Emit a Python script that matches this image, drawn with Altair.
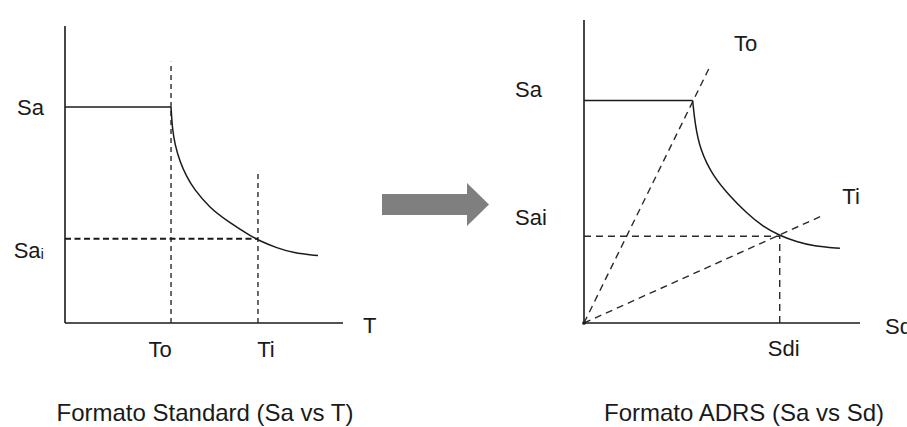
import altair as alt
import pandas as pd

FONT = "Liberation Sans"
INK = "#1a1a1a"
GUIDE = "#2a2a2a"

# ---- Standard format: Sa (g) vs T (s) ----
T_AXIS_MAX = 1.311
SA_AXIS_MAX_STD = 1.375
T0 = 0.50          # corner period
TI = 0.91          # inelastic period
SA0 = 1.00         # plateau acceleration
SAI = 0.39         # acceleration at Ti
TO_GUIDE_TOP = 1.21
TI_GUIDE_TOP = 0.70
STD_CURVE_T = [0.500, 0.506, 0.519, 0.542, 0.574, 0.605, 0.684, 0.763, 0.873, 0.920, 0.999, 1.075, 1.193]
STD_CURVE_SA = [1.000, 0.900, 0.824, 0.747, 0.677, 0.624, 0.531, 0.474, 0.404, 0.380, 0.347, 0.325, 0.312]

# ---- ADRS format: Sa (g) vs Sd (cm) ----
SD_AXIS_MAX = 11.0
SA_AXIS_MAX_ADRS = 1.362
SD0 = 4.33         # displacement at the end of the plateau
SDI = 7.80         # displacement at Ti
ADRS_CURVE_SD = [4.33, 4.42, 4.62, 5.14, 5.82, 6.48, 7.13, 7.81, 8.48, 9.13, 10.20]
ADRS_CURVE_SA = [1.000, 0.900, 0.780, 0.660, 0.570, 0.494, 0.433, 0.392, 0.365, 0.346, 0.336]
TO_RAY_SD = [0.0, 5.05]
TO_RAY_SA = [0.0, 1.16]
TI_RAY_SD = [0.0, 9.41]
TI_RAY_SA = [0.0, 0.478]

# ---- block arrow between the two panels (fractions of its length / height) ----
SHAFT_START, SHAFT_END = 0.0, 0.795
SHAFT_HALF = 0.244
HEAD_CENTER = 0.897

x_std = alt.Scale(domain=[0, T_AXIS_MAX], range=[65, 343], nice=False, zero=False)
y_std = alt.Scale(domain=[0, SA_AXIS_MAX_STD], range=[323, 26], nice=False, zero=False)
x_adrs = alt.Scale(domain=[0, SD_AXIS_MAX], range=[584, 860], nice=False, zero=False)
y_adrs = alt.Scale(domain=[0, SA_AXIS_MAX_ADRS], range=[323, 20], nice=False, zero=False)
x_arrow = alt.Scale(domain=[0, 1], range=[382, 489], nice=False, zero=False)
y_arrow = alt.Scale(domain=[-0.5, 0.5], range=[226, 183], nice=False, zero=False)


def segments(rows, xs, ys, color=INK, width=1.5, dash=None):
    df = pd.DataFrame(rows, columns=["x", "y", "x2", "y2"])
    kw = dict(color=color, strokeWidth=width)
    if dash:
        kw["strokeDash"] = dash
    return alt.Chart(df).mark_rule(**kw).encode(
        x=alt.X("x:Q", scale=xs, axis=None),
        y=alt.Y("y:Q", scale=ys, axis=None),
        x2="x2:Q",
        y2="y2:Q",
    )


def curve(xv, yv, xs, ys, color=INK, width=1.5, dash=None, interp="basis"):
    df = pd.DataFrame({"x": xv, "y": yv})
    kw = dict(color=color, strokeWidth=width, interpolate=interp)
    if dash:
        kw["strokeDash"] = dash
    return alt.Chart(df).mark_line(**kw).encode(
        x=alt.X("x:Q", scale=xs, axis=None),
        y=alt.Y("y:Q", scale=ys, axis=None),
    )


def label(text, x, y, xs, ys, dx=0, dy=0, align="center", size=22):
    df = pd.DataFrame({"x": [x], "y": [y], "t": [text]})
    return alt.Chart(df).mark_text(
        align=align, baseline="middle", dx=dx, dy=dy,
        fontSize=size, font=FONT, color=INK,
    ).encode(
        x=alt.X("x:Q", scale=xs, axis=None),
        y=alt.Y("y:Q", scale=ys, axis=None),
        text="t:N",
    )


# ---------------- Standard panel ----------------
std = alt.layer(
    segments([[0, 0, T_AXIS_MAX, 0], [0, 0, 0, SA_AXIS_MAX_STD]], x_std, y_std, width=1.6),
    segments([[0, SA0, T0, SA0]], x_std, y_std, width=1.4),
    segments([[T0, 0, T0, TO_GUIDE_TOP], [TI, 0, TI, TI_GUIDE_TOP]], x_std, y_std,
             color=GUIDE, width=1.4, dash=[5, 4]),
    segments([[0, SAI, TI, SAI]], x_std, y_std, color=INK, width=2.2, dash=[6, 3.5]),
    curve(STD_CURVE_T, STD_CURVE_SA, x_std, y_std),
    label("Sa", 0, SA0, x_std, y_std, dx=-21, dy=1, align="right"),
    label("Saᵢ", 0, SAI, x_std, y_std, dx=-21, dy=12, align="right"),
    label("To", T0, 0, x_std, y_std, dx=-11, dy=27),
    label("Ti", TI, 0, x_std, y_std, dx=8, dy=27),
    label("T", T_AXIS_MAX, 0, x_std, y_std, dx=20, dy=3, align="left"),
    label("Formato Standard (Sa vs T)", T_AXIS_MAX / 2, 0, x_std, y_std, dx=1, dy=91, size=24),
)

# ---------------- arrow: shaft + triangular head ----------------
ARROW_GRAY = "#7f7f7f"
shaft = alt.Chart(pd.DataFrame({
    "x": [SHAFT_START], "x2": [SHAFT_END], "y": [-SHAFT_HALF], "y2": [SHAFT_HALF],
})).mark_rect(color=ARROW_GRAY).encode(
    x=alt.X("x:Q", scale=x_arrow, axis=None),
    x2="x2:Q",
    y=alt.Y("y:Q", scale=y_arrow, axis=None),
    y2="y2:Q",
)
head = alt.Chart(pd.DataFrame({"x": [HEAD_CENTER], "y": [0.0]})).mark_point(
    shape="M-0.512,-1L0.512,0L-0.512,1Z", size=1849,
    filled=True, color=ARROW_GRAY, opacity=1, strokeWidth=0,
).encode(
    x=alt.X("x:Q", scale=x_arrow, axis=None),
    y=alt.Y("y:Q", scale=y_arrow, axis=None),
)
arrow = alt.layer(shaft, head)

# ---------------- ADRS panel ----------------
origin = alt.Chart(pd.DataFrame({"x": [0.0], "y": [0.0]})).mark_point(
    filled=True, size=14, color=INK, opacity=1
).encode(
    x=alt.X("x:Q", scale=x_adrs, axis=None),
    y=alt.Y("y:Q", scale=y_adrs, axis=None),
)

adrs = alt.layer(
    segments([[0, 0, SD_AXIS_MAX, 0], [0, 0, 0, SA_AXIS_MAX_ADRS]], x_adrs, y_adrs, width=1.6),
    segments([[0, SA0, SD0, SA0]], x_adrs, y_adrs, width=1.4),
    segments([[0, SAI, SDI, SAI], [SDI, 0, SDI, SAI]], x_adrs, y_adrs,
             color=GUIDE, width=1.4, dash=[7, 5]),
    curve(TO_RAY_SD, TO_RAY_SA, x_adrs, y_adrs, color=GUIDE, width=1.4, dash=[7, 5], interp="linear"),
    curve(TI_RAY_SD, TI_RAY_SA, x_adrs, y_adrs, color=GUIDE, width=1.4, dash=[7, 5], interp="linear"),
    curve(ADRS_CURVE_SD, ADRS_CURVE_SA, x_adrs, y_adrs),
    origin,
    label("Sa", 0, SA0, x_adrs, y_adrs, dx=-69, dy=-11, align="left"),
    label("Sai", 0, SAI, x_adrs, y_adrs, dx=-69, dy=-18, align="left"),
    label("To", TO_RAY_SD[1], TO_RAY_SA[1], x_adrs, y_adrs, dx=35, dy=-21),
    label("Ti", TI_RAY_SD[1], TI_RAY_SA[1], x_adrs, y_adrs, dx=31, dy=-20),
    label("Sdi", SDI, 0, x_adrs, y_adrs, dx=4, dy=26),
    label("Sd", SD_AXIS_MAX, 0, x_adrs, y_adrs, dx=25, dy=4, align="left"),
    label("Formato ADRS (Sa vs Sd)", SD_AXIS_MAX / 2, 0, x_adrs, y_adrs, dx=22, dy=91, size=24),
)

chart = alt.layer(std, arrow, adrs).resolve_scale(
    x="independent", y="independent"
).properties(
    width=907,
    height=427,
    autosize=alt.AutoSizeParams(type="none"),
    padding=0,
    background="white",
).configure_view(strokeWidth=0)

chart.save("out.html", embed_options={"renderer": "svg", "actions": False})
